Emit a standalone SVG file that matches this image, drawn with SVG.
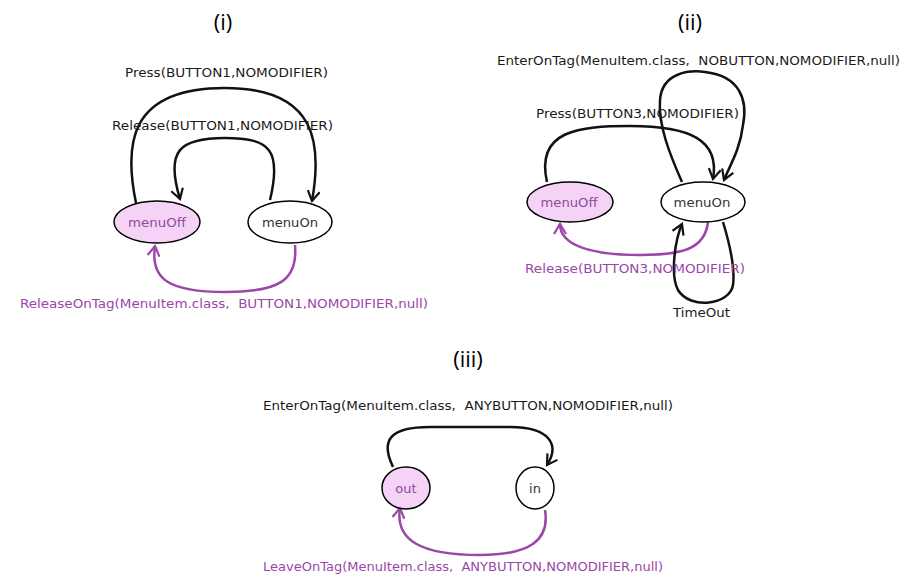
<svg xmlns="http://www.w3.org/2000/svg" width="911" height="574" viewBox="0 0 911 574">
<style>
.title{font-family:"Open Sans","DejaVu Sans",sans-serif;font-size:22px;fill:#000;text-anchor:middle}
.lbl{font-family:"DejaVu Sans",Verdana,sans-serif;font-size:12.5px;fill:#1a1a1a}
.plbl{font-family:"DejaVu Sans",Verdana,sans-serif;font-size:12.5px;fill:#9b46a8}
.ntxt{font-family:"DejaVu Sans",Verdana,sans-serif;font-size:13px;text-anchor:middle}
.on{fill:#ffffff;stroke:#000;stroke-width:1.5}
.off{fill:#f5d3f7;stroke:#000;stroke-width:1.5}
.e{fill:none;stroke:#111;stroke-width:2.5}
.p{fill:none;stroke:#9b46a8;stroke-width:2.5}
</style>
<defs>
<marker id="ab" markerUnits="userSpaceOnUse" markerWidth="14" markerHeight="14" refX="11" refY="6" orient="auto" viewBox="0 0 14 12">
<path d="M1,0 L11,6 L1,12" fill="none" stroke="#111" stroke-width="2.2"/>
</marker>
<marker id="ap" markerUnits="userSpaceOnUse" markerWidth="14" markerHeight="14" refX="11" refY="6" orient="auto" viewBox="0 0 14 12">
<path d="M1,0 L11,6 L1,12" fill="none" stroke="#9b46a8" stroke-width="2.2"/>
</marker>
</defs>

<text class="title" x="223" y="30">(i)</text>
<text class="title" x="690" y="30">(ii)</text>
<text class="title" x="468" y="367">(iii)</text>

<g id="connectors">
<path class="e" d="M136,203 C124,145 128,88 225,88 C318,88 322,145 312,201" marker-end="url(#ab)"/>
<path class="e" d="M270,200 C282,150 270,138 225,138 C180,138 165,150 180,199" marker-end="url(#ab)"/>
<path class="p" d="M295,245 C298,280 280,292 225,292 C170,292 150,280 155,246" marker-end="url(#ap)"/>

<path class="e" d="M547,182 C535,130 580,126 630,126 C690,126 720,140 713,179" marker-end="url(#ab)"/>
<path class="e" d="M682,182 C670,155 658,125 660,100 C662,72 690,70 705,72 C740,76 748,100 743,125 C740,150 730,165 724,180" marker-end="url(#ab)"/>
<path class="p" d="M708,222 C705,250 680,255 640,255 C590,255 560,245 560,224" marker-end="url(#ap)"/>
<path class="e" d="M723,222 C730,245 735,270 733,285 C730,305 690,310 678,290 C670,275 675,240 682,224" marker-end="url(#ab)"/>

<path class="e" d="M393,467 C380,440 390,427 430,427 L510,427 C550,427 560,445 547,465" marker-end="url(#ab)"/>
<path class="p" d="M545,510 C550,540 530,555 480,555 C420,555 395,540 400,508" marker-end="url(#ap)"/>
</g>

<g id="labels">
<text class="lbl" x="125" y="77" textLength="203" lengthAdjust="spacingAndGlyphs">Press(BUTTON1,NOMODIFIER)</text>
<text class="lbl" x="112" y="130" textLength="221" lengthAdjust="spacingAndGlyphs">Release(BUTTON1,NOMODIFIER)</text>
<text class="plbl" x="20" y="308" textLength="408" lengthAdjust="spacingAndGlyphs">ReleaseOnTag(MenuItem.class,&#160; BUTTON1,NOMODIFIER,null)</text>
<text class="lbl" x="497" y="65" textLength="403" lengthAdjust="spacingAndGlyphs">EnterOnTag(MenuItem.class,&#160; NOBUTTON,NOMODIFIER,null)</text>
<text class="lbl" x="536" y="118" textLength="203" lengthAdjust="spacingAndGlyphs">Press(BUTTON3,NOMODIFIER)</text>
<text class="plbl" x="525" y="273" textLength="220" lengthAdjust="spacingAndGlyphs">Release(BUTTON3,NOMODIFIER)</text>
<text class="lbl" x="673" y="317" textLength="57" lengthAdjust="spacingAndGlyphs">TimeOut</text>
<text class="lbl" x="263" y="410" textLength="410" lengthAdjust="spacingAndGlyphs">EnterOnTag(MenuItem.class,&#160; ANYBUTTON,NOMODIFIER,null)</text>
<text class="plbl" x="263" y="571" textLength="400" lengthAdjust="spacingAndGlyphs">LeaveOnTag(MenuItem.class,&#160; ANYBUTTON,NOMODIFIER,null)</text>
</g>

<g id="i-menuOff"><ellipse class="off" cx="157" cy="222" rx="43" ry="21"/><text class="ntxt" x="157" y="227" fill="#8e4a9a" textLength="58" lengthAdjust="spacingAndGlyphs">menuOff</text></g>
<g id="i-menuOn"><ellipse class="on" cx="290" cy="222" rx="42" ry="21"/><text class="ntxt" x="290" y="227" fill="#333" textLength="56" lengthAdjust="spacingAndGlyphs">menuOn</text></g>

<g id="ii-menuOff"><ellipse class="off" cx="570" cy="202" rx="43" ry="20"/><text class="ntxt" x="569" y="207" fill="#8e4a9a" textLength="57" lengthAdjust="spacingAndGlyphs">menuOff</text></g>
<g id="ii-menuOn"><ellipse class="on" cx="703" cy="202" rx="42" ry="20"/><text class="ntxt" x="702" y="207" fill="#333" textLength="57" lengthAdjust="spacingAndGlyphs">menuOn</text></g>

<g id="iii-out"><ellipse class="off" cx="406" cy="488" rx="24" ry="21"/><text class="ntxt" x="406" y="493" fill="#8e4a9a">out</text></g>
<g id="iii-in"><ellipse class="on" cx="535" cy="488" rx="19" ry="21"/><text class="ntxt" x="535" y="493" fill="#333">in</text></g>
</svg>
